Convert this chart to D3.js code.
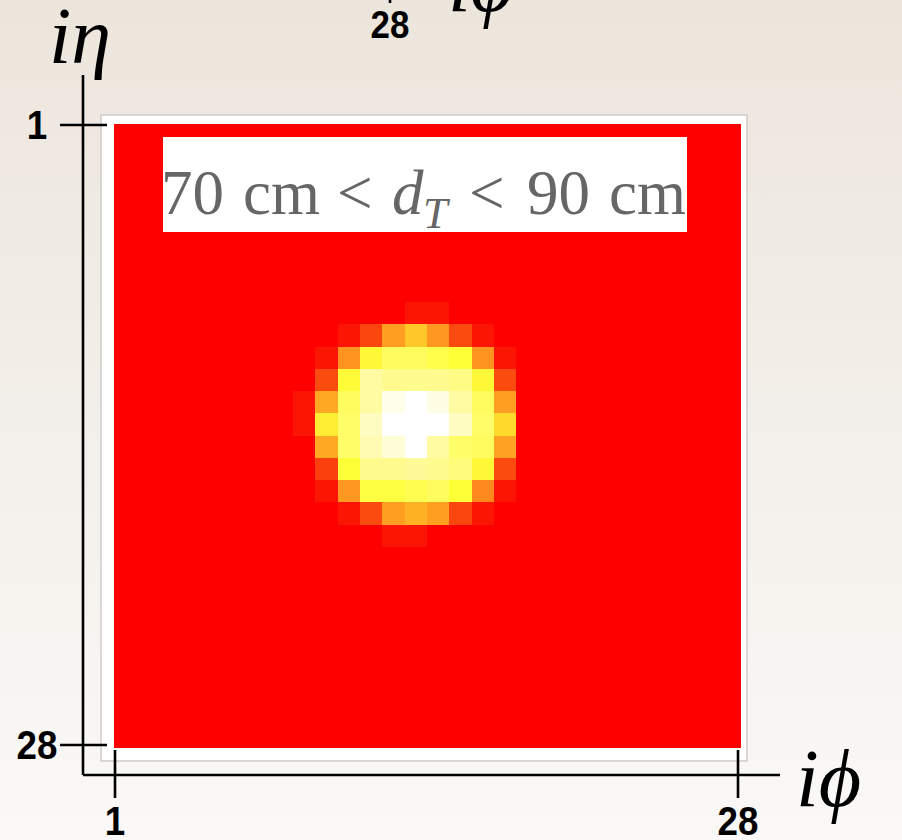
<!DOCTYPE html>
<html>
<head>
<meta charset="utf-8">
<script src="https://cdn.jsdelivr.net/npm/d3@7"></script>
<style>
  html, body { margin: 0; padding: 0; }
  svg { display: block; }
</style>
</head>
<body>
<svg id="chart" width="902" height="840"></svg>
<script>
// Calorimeter image: 28 x 28 towers (iη rows, iφ columns), normalised deposit 0..1
const nEta = 28;
const nPhi = 28;
const etaTickLabels = [1, 28];
const phiTickLabels = [1, 28];
const regionLabelParts = ["70", "cm", "<", "d", "T", "<", "90", "cm"];

// Non-empty block of towers; every other tower is 0
const blockEtaStart = 8;   // 0-based row of the block's first line
const blockPhiStart = 8;   // 0-based column of the block's first entry
const blockRows = [
  [0.00, 0.00, 0.00, 0.00, 0.00, 0.05, 0.05, 0.00, 0.00, 0.00],
  [0.00, 0.00, 0.05, 0.15, 0.32, 0.45, 0.30, 0.16, 0.05, 0.00],
  [0.00, 0.05, 0.29, 0.58, 0.68, 0.68, 0.64, 0.60, 0.29, 0.05],
  [0.00, 0.16, 0.59, 0.82, 0.78, 0.78, 0.78, 0.76, 0.58, 0.16],
  [0.05, 0.35, 0.68, 0.82, 0.96, 1.00, 0.95, 0.82, 0.68, 0.32],
  [0.05, 0.55, 0.70, 0.88, 1.00, 1.00, 1.00, 0.88, 0.70, 0.50],
  [0.00, 0.35, 0.70, 0.85, 0.92, 1.00, 0.82, 0.70, 0.68, 0.33],
  [0.00, 0.14, 0.60, 0.78, 0.78, 0.80, 0.78, 0.74, 0.58, 0.16],
  [0.00, 0.05, 0.30, 0.62, 0.62, 0.65, 0.68, 0.60, 0.27, 0.05],
  [0.00, 0.00, 0.05, 0.16, 0.32, 0.38, 0.32, 0.15, 0.05, 0.00],
  [0.00, 0.00, 0.00, 0.00, 0.05, 0.05, 0.00, 0.00, 0.00, 0.00]
];

// Build the full tower list
const cells = [];
for (let r = 0; r < nEta; r++) {
  for (let c = 0; c < nPhi; c++) {
    const br = r - blockEtaStart, bc = c - blockPhiStart;
    let v = 0;
    if (br >= 0 && br < blockRows.length && bc >= 0 && bc < blockRows[br].length) v = blockRows[br][bc];
    cells.push({ eta: r, phi: c, v });
  }
}

const svg = d3.select("#chart");

// Page background: soft vertical beige gradient
const defs = svg.append("defs");
const grad = defs.append("linearGradient").attr("id", "bg").attr("x1", 0).attr("y1", 0).attr("x2", 0).attr("y2", 1);
grad.append("stop").attr("offset", "0%").attr("stop-color", "#ece5dc");
grad.append("stop").attr("offset", "100%").attr("stop-color", "#faf9f7");
svg.append("rect").attr("width", 902).attr("height", 840).attr("fill", "url(#bg)");

// Frame geometry
const frame = { x0: 101, y0: 115, x1: 747, y1: 761 };
const plot = { x0: 114, y0: 124, x1: 740, y1: 747 };

const x = d3.scaleBand().domain(d3.range(nPhi)).range([plot.x0, plot.x1]).paddingInner(0).paddingOuter(0);
const y = d3.scaleBand().domain(d3.range(nEta)).range([plot.y0, plot.y1]).paddingInner(0).paddingOuter(0);

// Tick positions along the axes
const xTick = d3.scaleLinear().domain([1, nPhi]).range([115, 738]);
const yTick = d3.scaleLinear().domain([1, nEta]).range([125, 745]);

// Colour map: red -> orange -> yellow -> white
const color = d3.scaleLinear()
  .domain([0, 0.1, 0.3, 0.45, 0.6, 0.8, 1])
  .range(["#ff0000", "#fa2a08", "#ff9820", "#ffc828", "#ffff38", "#fffa98", "#ffffff"])
  .interpolate(d3.interpolateRgb)
  .clamp(true);

// White pad with light border
svg.append("rect")
  .attr("x", frame.x0).attr("y", frame.y0)
  .attr("width", frame.x1 - frame.x0).attr("height", frame.y1 - frame.y0)
  .attr("fill", "#ffffff").attr("stroke", "#cfcccb").attr("stroke-width", 1.5);

// Towers
svg.append("g").attr("shape-rendering", "crispEdges")
  .selectAll("rect").data(cells).join("rect")
  .attr("x", d => x(d.phi))
  .attr("y", d => y(d.eta))
  .attr("width", x.bandwidth() + 0.5)
  .attr("height", y.bandwidth() + 0.5)
  .attr("fill", d => color(d.v));

// Region label box (TLatex-style spacing: each token placed on its own)
svg.append("rect").attr("x", 163).attr("y", 137).attr("width", 524).attr("height", 95).attr("fill", "#ffffff");
const labelLayout = [
  { x: 161, y: 214, italic: false, size: 63 },
  { x: 243, y: 214, italic: false, size: 63 },
  { x: 337, y: 214, italic: false, size: 63 },
  { x: 392, y: 214, italic: true,  size: 63 },
  { x: 423, y: 228, italic: true,  size: 44 },
  { x: 469, y: 214, italic: false, size: 63 },
  { x: 527, y: 214, italic: false, size: 63 },
  { x: 609, y: 214, italic: false, size: 63 }
];
svg.append("g")
  .attr("font-family", "'Liberation Serif', 'Times New Roman', serif")
  .attr("fill", "#666666")
  .selectAll("text").data(regionLabelParts).join("text")
  .attr("x", (d, i) => labelLayout[i].x)
  .attr("y", (d, i) => labelLayout[i].y)
  .attr("font-size", (d, i) => labelLayout[i].size)
  .attr("font-style", (d, i) => labelLayout[i].italic ? "italic" : "normal")
  .text(d => d);

// Axes
const axisStroke = "#000000";
const axes = svg.append("g").attr("stroke", axisStroke).attr("stroke-width", 2.6).attr("fill", "none");
axes.append("line").attr("x1", 83).attr("x2", 83).attr("y1", 75).attr("y2", 775);
axes.append("line").attr("x1", 83).attr("x2", 780).attr("y1", 775).attr("y2", 775);

axes.selectAll(".yt").data(etaTickLabels).join("line")
  .attr("x1", 60).attr("x2", 107)
  .attr("y1", d => yTick(d)).attr("y2", d => yTick(d));
axes.selectAll(".xt").data(phiTickLabels).join("line")
  .attr("y1", 750).attr("y2", 798)
  .attr("x1", d => xTick(d)).attr("x2", d => xTick(d));

const tickFont = "'Liberation Sans', Arial, sans-serif";
svg.append("g").selectAll("text").data(etaTickLabels).join("text")
  .attr("x", 37).attr("y", d => yTick(d))
  .attr("dy", "0.36em")
  .attr("text-anchor", "middle")
  .attr("font-family", tickFont).attr("font-weight", "bold").attr("font-size", 40)
  .attr("transform", d => `translate(37,${yTick(d)}) scale(0.92,1) translate(-37,${-yTick(d)})`)
  .text(d => d);
svg.append("g").selectAll("text").data(phiTickLabels).join("text")
  .attr("x", d => xTick(d)).attr("y", 835)
  .attr("text-anchor", "middle")
  .attr("font-family", tickFont).attr("font-weight", "bold").attr("font-size", 40)
  .attr("transform", d => `translate(${xTick(d)},0) scale(0.92,1) translate(${-xTick(d)},0)`)
  .text(d => d);

// Axis titles
const titleFont = "'Liberation Serif', 'DejaVu Serif', serif";
svg.append("text").attr("x", 49).attr("y", 63)
  .attr("font-family", titleFont).attr("font-style", "italic").attr("font-size", 80)
  .text("i\u03b7");
svg.append("text").attr("x", 796).attr("y", 806)
  .attr("font-family", titleFont).attr("font-style", "italic").attr("font-size", 82)
  .text("i\u03d5");

// Lower edge of the preceding panel, visible at the very top of the page
const prev = svg.append("g").attr("transform", "translate(-348,-795)");
prev.append("line").attr("x1", xTick(28)).attr("x2", xTick(28)).attr("y1", 750).attr("y2", 798)
  .attr("stroke", axisStroke).attr("stroke-width", 2.6);
prev.append("text").attr("x", xTick(28)).attr("y", 833)
  .attr("text-anchor", "middle")
  .attr("font-family", tickFont).attr("font-weight", "bold").attr("font-size", 38)
  .attr("transform", `translate(${xTick(28)},0) scale(0.92,1) translate(${-xTick(28)},0)`)
  .text("28");
prev.append("text").attr("x", 796).attr("y", 806)
  .attr("font-family", titleFont).attr("font-style", "italic").attr("font-size", 82)
  .text("i\u03d5");
</script>
</body>
</html>
